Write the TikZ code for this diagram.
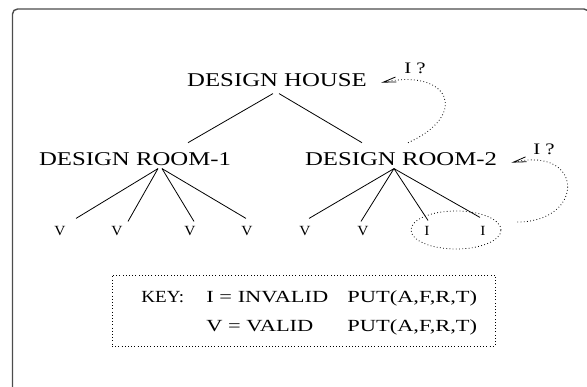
\documentclass[tikz,border=0pt]{standalone}
\usepackage{fontspec}
\setmainfont{Liberation Serif}
\usepackage{graphicx}
\usetikzlibrary{arrows.meta,shapes.geometric}
\newcommand{\wide}[2]{\scalebox{#1}[1]{#2}}

\begin{document}
\begin{tikzpicture}[x=1pt,y=-1pt,line width=0.8pt]
\tikzstyle{every node}=[inner sep=0pt,anchor=base];
\tikzstyle{task}=[font=\fontsize{19.5}{20}\selectfont];
\tikzstyle{leaf}=[font=\fontsize{14}{15}\selectfont];
\tikzstyle{ask}=[font=\fontsize{16}{17}\selectfont];
\tikzstyle{keytext}=[font=\fontsize{17}{18}\selectfont,anchor=base west];
\tikzstyle{dots}=[dash pattern=on 0.8pt off 2.4pt];
\tikzstyle{retry}=[dots,-{Straight Barb[length=13pt,width=5pt,line width=0.8pt]}];
\useasboundingbox (0,0) rectangle (587,387);
\draw[rounded corners=5pt,line width=1.4pt,black!70] (12.5,9) rectangle (589,420);
% tree
\node[task] (house) at (277,87) {\wide{1.27}{DESIGN HOUSE}};
\node[task] (room1) at (135,166) {\wide{1.27}{DESIGN ROOM-1}};
\node[task] (room2) at (401,166) {\wide{1.27}{DESIGN ROOM-2}};
\foreach \n/\x in {1/60,2/117,3/190,4/247,5/305,6/363}
	\node[leaf] (v\n) at (\x,236) {\wide{1.1}{V}};
\node[leaf] (i1) at (427,236) {\wide{1.1}{I}};
\node[leaf] (i2) at (483,236) {\wide{1.1}{I}};
\draw ([shift={(-4,6)}]house.south) -- ([shift={(53,-10)}]room1.north);
\draw ([shift={(2,6)}]house.south) -- ([shift={(-39,-10)}]room2.north);
\foreach \n/\sx/\ex/\ey in {1/23/16/-8,2/23/11/-5,3/27/4/-5,4/27/-1/-8}
	\draw ([shift={(\sx,2)}]room1.south) -- ([shift={(\ex,\ey)}]v\n.north);
\foreach \t/\ex/\ey in {v5/4/-8,v6/-2/-5,i1/1/-6,i2/-3/-9}
	\draw ([shift={(-7,2)}]room2.south) -- ([shift={(\ex,\ey)}]\t.north);
% invalid ones and retries
\node[draw,dots,ellipse,anchor=center,minimum width=90pt,minimum height=38pt] (igrp) at (456,230) {};
\node[ask] (ask1) at (415,74) {\wide{1.3}{I ?}};
\node[ask] (ask2) at (544,155) {\wide{1.3}{I ?}};
\draw[retry] ([shift={(7,-10)}]room2.north) .. controls (470,115) and (450,68) .. ([shift={(14,2)}]house.east);
\draw[retry] ([shift={(16,-8)}]igrp.east) .. controls (585,222) and (585,146) .. ([shift={(14,3)}]room2.east);
% key
\node[draw,dots,anchor=center,minimum width=383pt,minimum height=71pt] (keybox) at (303.5,310.5) {};
\node[keytext] (keyhead) at (141,303) {\wide{1.12}{KEY:}};
\node[keytext] (keyi) at (206,303) {\wide{1.32}{I = INVALID}};
\node[keytext] (puti) at (347,303) {\wide{1.32}{PUT(A,F,R,T)}};
\node[keytext] (keyv) at (206,332) {\wide{1.32}{V = VALID}};
\node[keytext] (putv) at (347,332) {\wide{1.32}{PUT(A,F,R,T)}};
\end{tikzpicture}
\end{document}
